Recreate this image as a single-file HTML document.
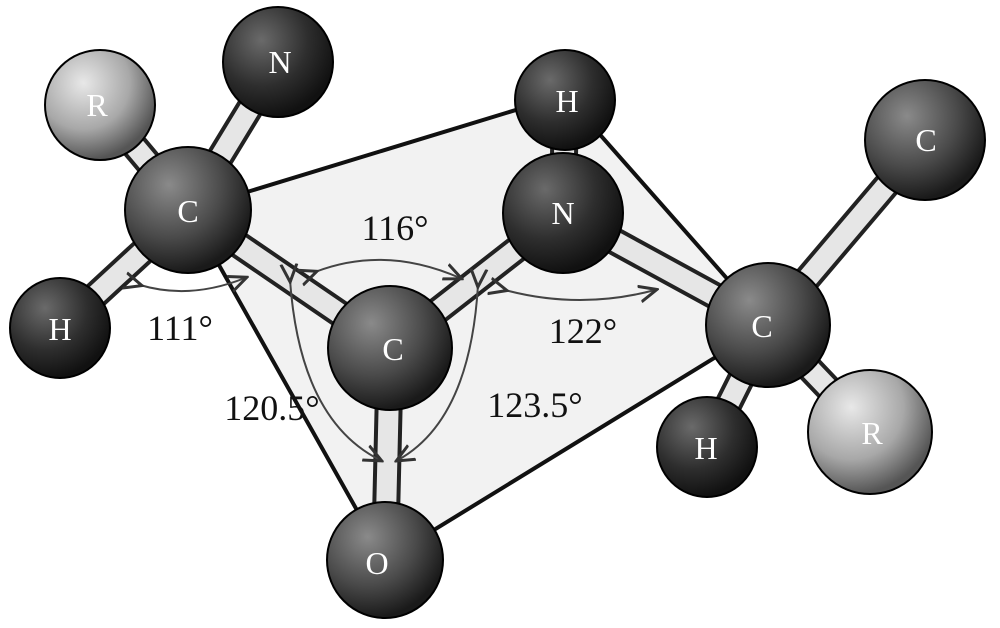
<!DOCTYPE html>
<html><head><meta charset="utf-8"><style>
html,body{margin:0;padding:0;background:#fff}
svg{display:block}
text{font-family:"Liberation Serif",serif}
</style></head><body>
<svg width="1000" height="628" viewBox="0 0 1000 628" xmlns="http://www.w3.org/2000/svg">
<defs>
<radialGradient id="dk" cx="35%" cy="30%" r="70%"><stop offset="0" stop-color="#6a6a6a"/><stop offset="0.6" stop-color="#2e2e2e"/><stop offset="1" stop-color="#111"/></radialGradient>
<radialGradient id="md" cx="35%" cy="30%" r="70%"><stop offset="0" stop-color="#8a8a8a"/><stop offset="0.6" stop-color="#4a4a4a"/><stop offset="1" stop-color="#1a1a1a"/></radialGradient>
<radialGradient id="lt" cx="35%" cy="30%" r="70%"><stop offset="0" stop-color="#e8e8e8"/><stop offset="0.6" stop-color="#a8a8a8"/><stop offset="1" stop-color="#555"/></radialGradient>
<marker id="ah" markerWidth="10" markerHeight="10" refX="8" refY="5" orient="auto"><path d="M0,1 L9,5 L0,9" fill="none" stroke="#333" stroke-width="1.5"/></marker>
</defs>
<polygon points="188,210 565,95 768,325 385,560" fill="#f2f2f2" stroke="#111" stroke-width="4"/>
<g stroke-linecap="round">
<g stroke="#222" stroke-width="28">
<line x1="100" y1="105" x2="188" y2="210"/><line x1="278" y1="62" x2="188" y2="210"/>
<line x1="60" y1="328" x2="188" y2="210"/><line x1="188" y1="210" x2="390" y2="348"/>
<line x1="390" y1="348" x2="385" y2="560"/><line x1="390" y1="348" x2="563" y2="213"/>
<line x1="565" y1="100" x2="563" y2="213"/><line x1="563" y1="213" x2="768" y2="325"/>
<line x1="768" y1="325" x2="925" y2="140"/><line x1="768" y1="325" x2="707" y2="447"/>
<line x1="768" y1="325" x2="870" y2="432"/>
</g>
<g stroke="#e6e6e6" stroke-width="20">
<line x1="100" y1="105" x2="188" y2="210"/><line x1="278" y1="62" x2="188" y2="210"/>
<line x1="60" y1="328" x2="188" y2="210"/><line x1="188" y1="210" x2="390" y2="348"/>
<line x1="390" y1="348" x2="385" y2="560"/><line x1="390" y1="348" x2="563" y2="213"/>
<line x1="565" y1="100" x2="563" y2="213"/><line x1="563" y1="213" x2="768" y2="325"/>
<line x1="768" y1="325" x2="925" y2="140"/><line x1="768" y1="325" x2="707" y2="447"/>
<line x1="768" y1="325" x2="870" y2="432"/>
</g>
</g>
<g fill="none" stroke="#444" stroke-width="2">
<path d="M315,272 Q385,245 460,278" marker-end="url(#ah)" marker-start="url(#ah)"/>
<path d="M140,285 Q190,300 245,278" marker-end="url(#ah)" marker-start="url(#ah)"/>
<path d="M505,290 Q580,310 655,290" marker-end="url(#ah)" marker-start="url(#ah)"/>
<path d="M290,280 Q300,420 380,460" marker-end="url(#ah)" marker-start="url(#ah)"/>
<path d="M478,285 Q470,420 398,460" marker-end="url(#ah)" marker-start="url(#ah)"/>
</g>
<g stroke="#000" stroke-width="2">
<circle cx="100" cy="105" r="55" fill="url(#lt)"/>
<circle cx="278" cy="62" r="55" fill="url(#dk)"/>
<circle cx="60" cy="328" r="50" fill="url(#dk)"/>
<circle cx="188" cy="210" r="63" fill="url(#md)"/>
<circle cx="390" cy="348" r="62" fill="url(#md)"/>
<circle cx="385" cy="560" r="58" fill="url(#md)"/>
<circle cx="565" cy="100" r="50" fill="url(#dk)"/>
<circle cx="563" cy="213" r="60" fill="url(#dk)"/>
<circle cx="925" cy="140" r="60" fill="url(#md)"/>
<circle cx="707" cy="447" r="50" fill="url(#dk)"/>
<circle cx="768" cy="325" r="62" fill="url(#md)"/>
<circle cx="870" cy="432" r="62" fill="url(#lt)"/>
</g>
<g font-size="32" fill="#fff" text-anchor="middle">
<text x="97" y="116">R</text><text x="280" y="73">N</text><text x="60" y="340">H</text>
<text x="188" y="222">C</text><text x="393" y="360">C</text><text x="377" y="574">O</text>
<text x="567" y="112">H</text><text x="563" y="224">N</text><text x="926" y="151">C</text>
<text x="706" y="459">H</text><text x="762" y="337">C</text><text x="872" y="444">R</text>
</g>
<g font-size="36" fill="#111" text-anchor="middle">
<text x="395" y="240">116°</text><text x="180" y="340">111°</text>
<text x="583" y="343">122°</text><text x="272" y="420">120.5°</text>
<text x="535" y="417">123.5°</text>
</g>
</svg>
</body></html>
